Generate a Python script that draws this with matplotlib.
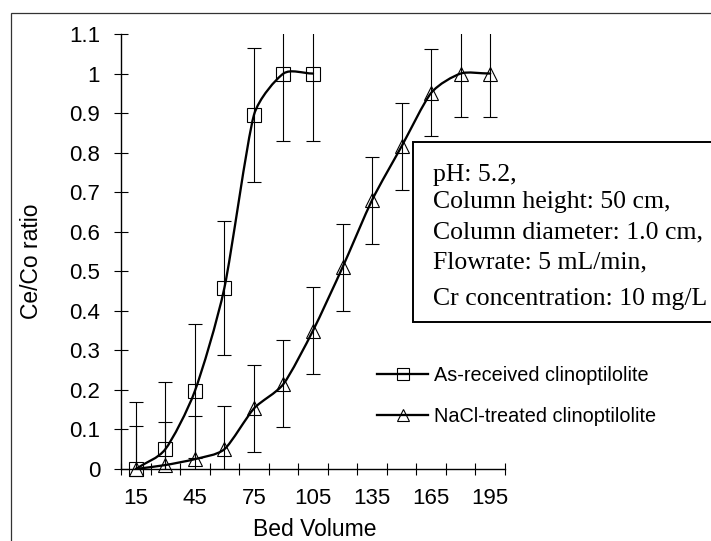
import numpy as np
import matplotlib
matplotlib.use("Agg")
import matplotlib.pyplot as plt
from matplotlib.path import Path
from matplotlib.patches import PathPatch, Rectangle
from matplotlib.lines import Line2D

# ---------------- data ----------------
bed_volume_sq = [15, 30, 45, 60, 75, 90, 105]
ratio_sq = [0.0, 0.05, 0.197, 0.458, 0.895, 1.0, 1.0]
err_sq = [0.17, 0.17, 0.17, 0.17, 0.17, 0.17, 0.17]

bed_volume_tri = [15, 30, 45, 60, 75, 90, 105, 120, 135, 150, 165, 180, 195]
ratio_tri = [0.0, 0.01, 0.025, 0.05, 0.153, 0.215, 0.35, 0.51, 0.68, 0.816, 0.951, 1.0, 1.0]
err_tri = [0.11, 0.11, 0.11, 0.11, 0.11, 0.11, 0.11, 0.11, 0.11, 0.11, 0.11, 0.11, 0.11]

series_labels = ["As-received clinoptilolite", "NaCl-treated clinoptilolite"]
x_tick_labels = [15, 45, 75, 105, 135, 165, 195]
y_ticks = [0, 0.1, 0.2, 0.3, 0.4, 0.5, 0.6, 0.7, 0.8, 0.9, 1.0, 1.1]
y_tick_labels = ["0", "0.1", "0.2", "0.3", "0.4", "0.5", "0.6", "0.7", "0.8", "0.9", "1", "1.1"]
info_lines = ["pH: 5.2,", "Column height: 50 cm,", "Column diameter: 1.0 cm,",
              "Flowrate: 5 mL/min,", "Cr concentration: 10 mg/L"]

plt.rcParams['font.family'] = ['Liberation Sans', 'DejaVu Sans']

W, H = 711, 541
fig = plt.figure(figsize=(W / 100, H / 100), dpi=100)
ax = fig.add_axes([121 / W, 1 - 469 / H, 384 / W, 435 / H])
ax.set_xlim(7.5, 202.5)
ax.set_ylim(0, 1.1)


def smooth_path(x, y, tension=0.12):
    """Spreadsheet-style smoothed line: cubic Bezier segments computed in
    display space with handle lengths limited relative to the segment length."""
    data = np.column_stack([np.asarray(x, float), np.asarray(y, float)])
    pts = ax.transData.transform(data)
    n = len(pts)
    verts = [pts[0]]
    codes = [Path.MOVETO]
    for i in range(n - 1):
        first = i == 0
        last = i + 2 >= n
        p1 = pts[i]
        p2 = pts[i + 1]
        p0 = p1 if first else pts[i - 1]
        p3 = p2 if last else pts[i + 2]
        d12 = np.hypot(*(p2 - p1))
        h1 = (p2 - p0) * (1 / 3 if first else tension)
        h2 = (p3 - p1) * (1 / 3 if last else tension)
        for h in (h1, h2):
            L = np.hypot(*h)
            if L > d12 / 3 and L > 0:
                h *= (d12 / 3) / L
        verts += [p1 + h1, p2 - h2, p2]
        codes += [Path.CURVE4] * 3
    verts = ax.transData.inverted().transform(np.array(verts))
    return Path(verts, codes)


lw = 1.65
for x, y in [(bed_volume_sq, ratio_sq), (bed_volume_tri, ratio_tri)]:
    ax.add_patch(PathPatch(smooth_path(x, y), fill=False, lw=lw, ec='black',
                           capstyle='round', joinstyle='round', zorder=3))

ax.errorbar(bed_volume_sq, ratio_sq, yerr=err_sq, fmt='none', ecolor='black',
            elinewidth=0.8, capsize=4.7, capthick=0.8, zorder=2)
ax.errorbar(bed_volume_tri, ratio_tri, yerr=err_tri, fmt='none', ecolor='black',
            elinewidth=0.8, capsize=4.7, capthick=0.8, zorder=2)

ax.plot(bed_volume_sq, ratio_sq, ls='none', marker='s', ms=9.4, mfc='none',
        mec='black', mew=0.8, clip_on=False, zorder=4)
ax.plot(bed_volume_tri, ratio_tri, ls='none', marker='^', ms=10, mfc='none',
        mec='black', mew=0.8, clip_on=False, zorder=4)

for s in ['top', 'right']:
    ax.spines[s].set_visible(False)
for s in ['left', 'bottom']:
    ax.spines[s].set_linewidth(1.0)

ax.set_yticks(y_ticks)
ax.set_yticklabels(y_tick_labels)
ax.tick_params(axis='y', direction='inout', length=10, width=0.8, pad=10, labelsize=16)

ax.set_xticks(x_tick_labels)
ax.set_xticklabels([str(v) for v in x_tick_labels])
ax.set_xticks(np.arange(7.5, 203, 15), minor=True)
ax.tick_params(axis='x', which='major', length=0, pad=13.5, labelsize=16)
ax.tick_params(axis='x', which='minor', direction='inout', length=9, width=0.8)

fig.text(315 / W, 1 - 536.5 / H, "Bed Volume", ha='center', va='baseline', fontsize=16.5)
fig.text(31 / W, 1 - 261 / H, "Ce/Co ratio", ha='center', va='center', rotation=90, fontsize=16.5)

# legend
handles = [Line2D([], [], color='black', lw=lw, marker='s', ms=8.5, mfc='none', mew=0.8),
           Line2D([], [], color='black', lw=lw, marker='^', ms=9, mfc='none', mew=0.8)]
ax.legend(handles, series_labels, loc='upper left', bbox_to_anchor=(377 / W, 1 - 366 / H),
          bbox_transform=fig.transFigure, frameon=False, fontsize=14.3,
          handlelength=2.57, handletextpad=0.3, labelspacing=1.12, borderpad=0,
          borderaxespad=0)

# figure border
fig.add_artist(Rectangle((11 / W, -0.5), 2, (1 - 13 / H) + 0.5, transform=fig.transFigure,
                         fill=False, lw=0.9, ec='#333333'))

# info box
fig.add_artist(Rectangle((413 / W, 1 - 322 / H), 1, (322 - 142) / H, transform=fig.transFigure,
                         fill=True, fc='white', lw=1.4, ec='black', zorder=5))
baselines = [181.5, 208, 238, 268, 305]
for line, yb in zip(info_lines, baselines):
    fig.text(433 / W, 1 - yb / H, line, ha='left', va='baseline', fontsize=18.5,
             family=['Liberation Serif', 'DejaVu Serif'], zorder=6)

fig.savefig("out.png", dpi=100)
